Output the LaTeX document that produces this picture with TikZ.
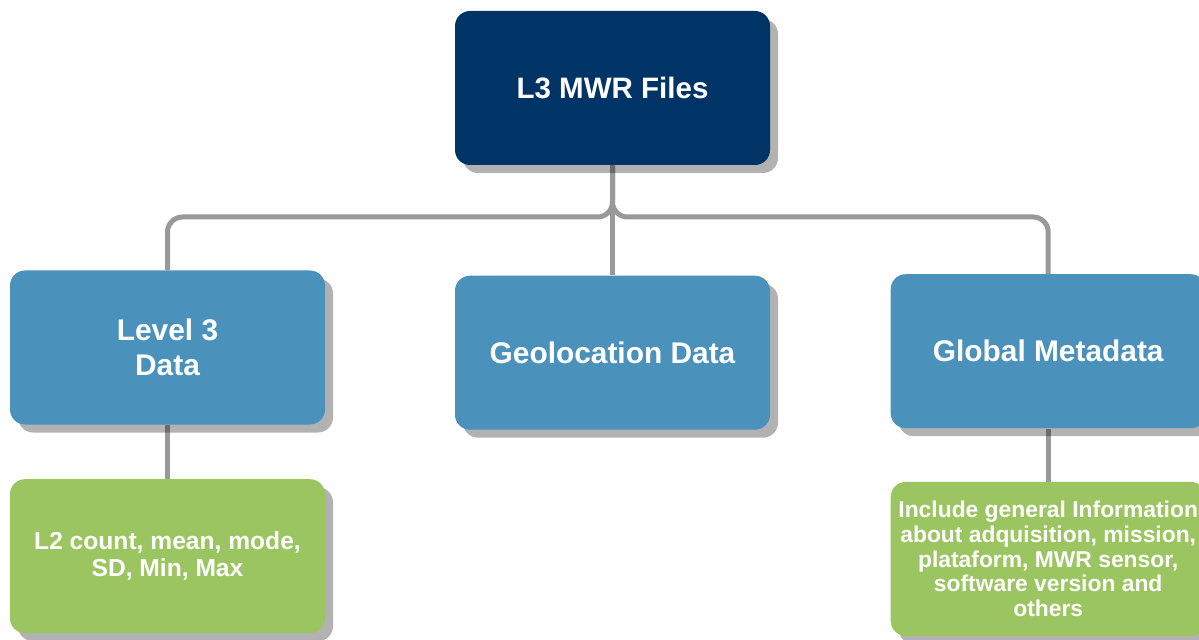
\documentclass[tikz,border=0pt]{standalone}
\usepackage{fontspec}
\setmainfont{Liberation Sans}
\usepackage{tikz}
\usetikzlibrary{positioning,shadows,backgrounds}
\definecolor{navyfill}{RGB}{0,51,102}
\definecolor{bluefill}{RGB}{74,145,187}
\definecolor{greenfill}{RGB}{155,197,97}
\definecolor{linkgray}{RGB}{153,153,153}
\tikzset{
  basebox/.style={rectangle,rounded corners=0.3cm,align=center,text=white,inner sep=2pt,
    minimum width=6.3cm,minimum height=3.08cm,font=\bfseries,
    drop shadow={shadow xshift=0.16cm,shadow yshift=-0.16cm,fill=black,opacity=0.3}},
  topbox/.style={basebox,fill=navyfill,font=\bfseries\fontsize{16.8}{19}\selectfont},
  midbox/.style={basebox,fill=bluefill,font=\bfseries\fontsize{17}{20}\selectfont},
  leafbox/.style={basebox,fill=greenfill,font=\bfseries\fontsize{13}{14}\selectfont},
  statbox/.style={leafbox,font=\bfseries\fontsize{14}{15.5}\selectfont},
  link/.style={draw=linkgray,line width=0.1cm,rounded corners=0.3cm}
}
\begin{document}
\begin{tikzpicture}
  \useasboundingbox (0,0) rectangle (23.98,12.78);
  \node[topbox] (files) at (12.25,11.02) {L3 MWR Files};
  \node[midbox,below=2.2cm of files] (geo) {Geolocation Data};
  \node[midbox] (lvl3) at (3.35,5.83) {Level 3\\Data};
  \node[midbox,right=2.4cm of geo,yshift=0.03cm] (meta) {Global Metadata};
  \node[statbox,below=1.08cm of lvl3] (stats) {L2 count, mean, mode,\\SD, Min, Max};
  \node[leafbox,below=1.06cm of meta] (info) {Include general Information\\about adquisition, mission,\\plataform, MWR sensor,\\software version and\\others};
  \coordinate (split) at (12.25,8.44);
  \begin{scope}[on background layer]
    \draw[link] (files.south) |- (lvl3.north |- split) -- (lvl3.north);
    \draw[link] (files.south) |- (meta.north |- split) -- (meta.north);
    \draw[link] (files.south) -- (geo.north);
    \draw[link] (lvl3.south) -- (stats.north);
    \draw[link] (meta.south) -- (info.north);
  \end{scope}
\end{tikzpicture}
\end{document}
